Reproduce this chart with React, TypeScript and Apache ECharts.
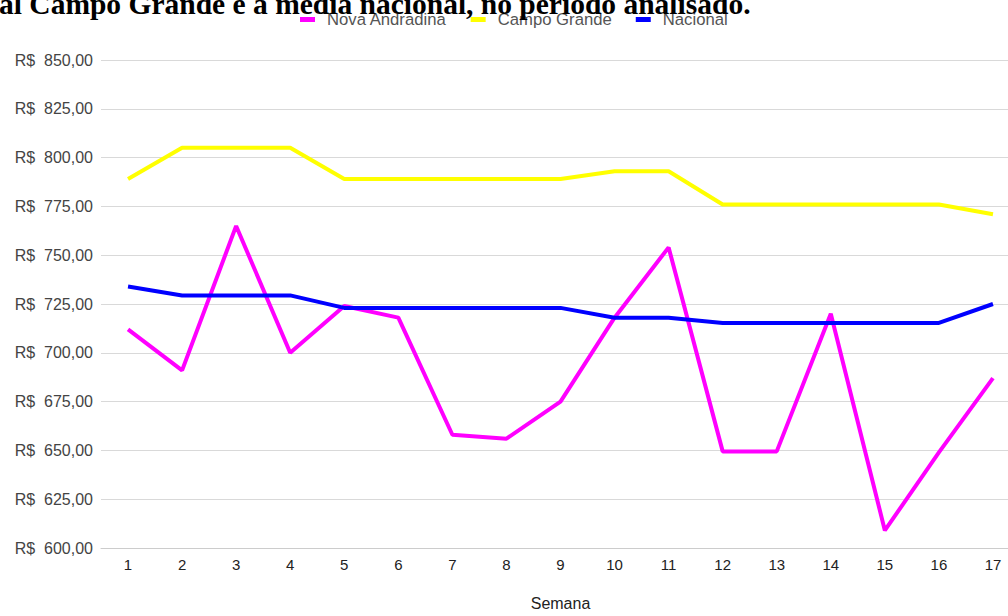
import React, { useEffect, useRef } from "react";
import * as echarts from "echarts";

const weeks = ["1","2","3","4","5","6","7","8","9","10","11","12","13","14","15","16","17"];
const novaAndradina = [712, 691, 765, 700, 724, 718, 658, 656, 675, 718, 754, 649.5, 649.5, 720, 609, 649, 687];
const campoGrande = [789, 805, 805, 805, 789, 789, 789, 789, 789, 793, 793, 776, 776, 776, 776, 776, 771];
const nacional = [734, 729.4, 729.4, 729.4, 723, 723, 723, 723, 723, 718, 718, 715.3, 715.3, 715.3, 715.3, 715.3, 725];
const titleText = "al Campo Grande e a média nacional, no período analisado.";

export default function App() {
  const ref = useRef<HTMLDivElement>(null);
  useEffect(() => {
    const chart = echarts.init(ref.current!, null, { renderer: "svg" });
    const font = "'Liberation Sans', Arial, sans-serif";
    chart.setOption({
      animation: false,
      backgroundColor: "#ffffff",
      title: {
        text: titleText,
        left: -1,
        top: -11,
        padding: 0,
        textStyle: { fontFamily: "'Liberation Serif', 'Times New Roman', serif", fontWeight: "bold", fontSize: 29.5, color: "#000" },
      },
      legend: {
        left: 300,
        top: 11,
        padding: 0,
        itemWidth: 15,
        itemHeight: 5,
        itemGap: 24,
        icon: "rect",
        textStyle: { fontFamily: font, fontSize: 16.7, color: "#555", padding: [0, 0, 0, 7] },
        data: ["Nova Andradina", "Campo Grande", "Nacional"],
      },
      grid: { left: 101, top: 60, width: 919, height: 492, containLabel: false },
      xAxis: {
        type: "category",
        data: weeks,
        boundaryGap: true,
        axisTick: { show: false },
        axisLine: { show: true, lineStyle: { color: "#cccccc", width: 1 } },
        axisLabel: { margin: 9, fontFamily: font, fontSize: 15, color: "#222" },
        name: "Semana",
        nameLocation: "middle",
        nameGap: 47,
        nameTextStyle: { fontFamily: font, fontSize: 16, color: "#222" },
      },
      yAxis: {
        type: "value",
        min: 600,
        max: 850,
        interval: 25,
        axisLine: { show: false },
        axisTick: { show: false },
        splitLine: { lineStyle: { color: "#d9d9d9", width: 1 } },
        axisLabel: {
          margin: 8,
          fontFamily: font,
          fontSize: 16,
          color: "#444",
          formatter: (v: number) => "R$  " + v.toFixed(2).replace(".", ","),
        },
      },
      series: [
        { name: "Nova Andradina", type: "line", data: novaAndradina, symbol: "none", color: "#ff00ff", lineStyle: { width: 4, color: "#ff00ff" }, z: 3 },
        { name: "Campo Grande", type: "line", data: campoGrande, symbol: "none", color: "#ffff00", lineStyle: { width: 4, color: "#ffff00" }, z: 2 },
        { name: "Nacional", type: "line", data: nacional, symbol: "none", color: "#0000ff", lineStyle: { width: 4, color: "#0000ff" }, z: 4 },
      ],
    });
    return () => chart.dispose();
  }, []);
  return (
    <div style={{ position: "fixed", left: 0, top: 0, width: 1008, height: 616, overflow: "hidden", background: "#fff" }}>
      <div ref={ref} style={{ position: "absolute", left: 0, top: 0, width: 1030, height: 616 }} />
    </div>
  );
}
